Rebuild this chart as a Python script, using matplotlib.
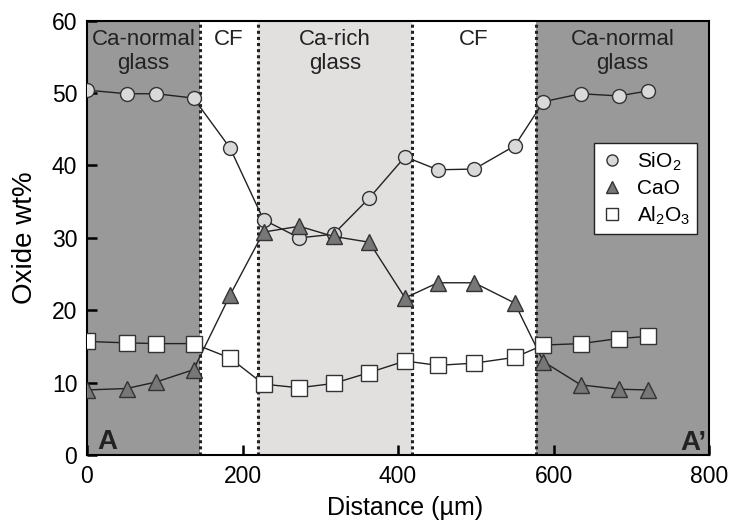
import numpy as np
import matplotlib.pyplot as plt

plt.rcParams['font.family'] = ['Liberation Sans', 'DejaVu Sans']
plt.rcParams['mathtext.fontset'] = 'custom'
plt.rcParams['mathtext.rm'] = 'Liberation Sans'

# distance (um) of each analysis spot
dist = [0, 51, 89, 137, 184, 227, 273, 317, 363, 409, 451, 498, 550, 587, 635, 684, 722]
sio2 = [50.4, 49.9, 49.9, 49.3, 42.4, 32.5, 30.0, 30.5, 35.5, 41.2, 39.4, 39.5, 42.7, 48.8, 49.9, 49.6, 50.3]
cao = [9.0, 9.2, 10.1, 11.8, 22.1, 30.8, 31.6, 30.2, 29.4, 21.7, 23.8, 23.8, 21.0, 12.9, 9.7, 9.1, 9.0]
al2o3 = [15.7, 15.5, 15.4, 15.4, 13.4, 9.8, 9.3, 9.9, 11.4, 13.0, 12.4, 12.7, 13.5, 15.2, 15.4, 16.1, 16.4]

# zones along the traverse
zone_edges = [0, 145, 220, 418, 577, 800]
zone_names = ["Ca-normal\nglass", "CF", "Ca-rich\nglass", "CF", "Ca-normal\nglass"]
zone_colors = ["#99999a", "white", "#e2dfdf", "white", "#99999a"]

fig = plt.figure(figsize=(7.48, 5.28), dpi=100)
ax = fig.add_axes([0.1163, 0.138, 0.8317, 0.823])

for i in range(len(zone_names)):
    x0, x1 = zone_edges[i], zone_edges[i + 1]
    ax.axvspan(x0, x1, color=zone_colors[i], zorder=0, lw=0)
    ax.text((x0 + x1) / 2, 58.9, zone_names[i], ha='center', va='top',
            fontsize=16, linespacing=1.2, color='#222222')
for x in zone_edges[1:-1]:
    ax.axvline(x, color='#222222', ls=(0, (1, 1)), lw=2.2, zorder=1)

ax.plot(dist, sio2, '-o', color='#222222', lw=1, mfc='#d9d9d9', mec='#333333',
        ms=10, mew=1, label='SiO$_2$', zorder=3)
ax.plot(dist, cao, '-^', color='#222222', lw=1, mfc='#777777', mec='#333333',
        ms=11, mew=1, label='CaO', zorder=3)
ax.plot(dist, al2o3, '-s', color='#222222', lw=1, mfc='white', mec='#333333',
        ms=11, mew=1, label='Al$_2$O$_3$', zorder=3)

ax.text(13, 0.9, "A", fontsize=20, fontweight='bold', color='#222222')
ax.text(797, 0.7, "A\u2019", fontsize=20, fontweight='bold', ha='right', color='#222222')

ax.set_xlim(0, 800)
ax.set_ylim(0, 60)
ax.set_xticks([0, 200, 400, 600, 800])
ax.set_yticks([0, 10, 20, 30, 40, 50, 60])
ax.tick_params(direction='in', length=7, width=1.8, labelsize=16.5, pad=7)
for s in ax.spines.values():
    s.set_linewidth(1.5)
ax.set_xlabel("Distance (\u00b5m)", fontsize=18)
ax.xaxis.set_label_coords(0.511, -0.095)
ax.set_ylabel("Oxide wt%", fontsize=20, labelpad=10)

leg = ax.legend(loc='upper right', bbox_to_anchor=(0.981, 0.718), fontsize=15,
                fancybox=False, framealpha=1, edgecolor='#222222',
                handlelength=1.0, handletextpad=0.7, borderpad=0.35,
                labelspacing=0.3, borderaxespad=0)
for h in leg.legend_handles:
    h.set_linestyle('')
    h.set_markersize(8)
leg.get_frame().set_linewidth(1)

fig.savefig("out.png", dpi=100)
